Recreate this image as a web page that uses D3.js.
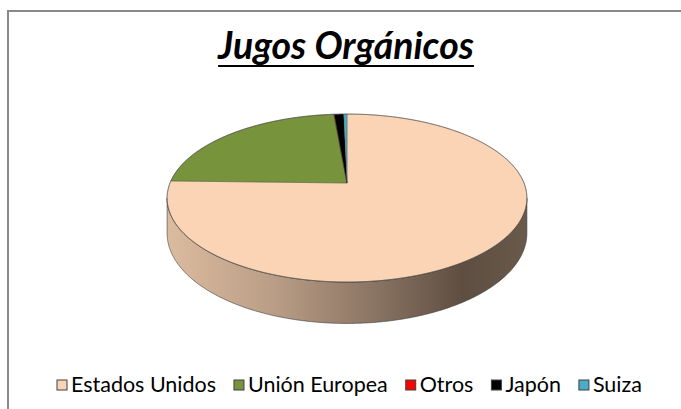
<!DOCTYPE html>
<html>
<head>
<meta charset="utf-8">
<script src="https://cdn.jsdelivr.net/npm/d3@7"></script>
<style>
  body { margin: 0; background: #fff; }
  svg { display: block; }
</style>
</head>
<body>
<div id="chart"></div>
<script>
const categories = ["Estados Unidos", "Unión Europea", "Otros", "Japón", "Suiza"]
const values = [75.4, 23.2, 0.05, 1.0, 0.35]
const colors = ["#fad4b4", "#77933c", "#ff0000", "#000000", "#4bacc6"]
const title = "Jugos Orgánicos"

function draw() {
    const width = 681, height = 409

    const svg = d3.select('#chart')
        .append('svg')
        .attr('width', width)
        .attr('height', height)

    // chart area border (cropped on right and bottom)
    svg.append('rect')
        .attr('x', 8).attr('y', 11)
        .attr('width', 700).attr('height', 420)
        .attr('fill', '#fff')
        .attr('stroke', '#898989')
        .attr('stroke-width', 2)

    // pie geometry with a bit of perspective
    const cx = 347, cy = 183, rx = 177, ry = 81.3, k = 0.179, depth = 34

    const proj = (a, drop) => {
        const u = Math.sin(a), v = -Math.cos(a)
        const w = 1 - k * v
        return [cx + rx * u / w, cy + (ry * v + drop) / w]
    }

    const arcPoints = (a0, a1, drop) => {
        const n = Math.max(2, Math.ceil(Math.abs(a1 - a0) / (Math.PI / 360)))
        return d3.range(n + 1).map(i => proj(a0 + (a1 - a0) * i / n, drop))
    }

    const pie = d3.pie().sort(null).value(d => d)
    const arcs = pie(values)

    const defs = svg.append('defs')
    const grad = defs.append('linearGradient')
        .attr('id', 'side')
        .attr('gradientUnits', 'userSpaceOnUse')
        .attr('x1', cx - rx - 4).attr('x2', cx + rx + 4)
        .attr('y1', 0).attr('y2', 0)
    const stops = [[0, '#dcbc9f'], [0.3, '#b99d86'], [0.55, '#8f7866'], [0.82, '#5e4e41'], [1, '#6a5a4c']]
    stops.forEach(s => grad.append('stop').attr('offset', s[0]).attr('stop-color', s[1]))

    const line = d3.line()

    // front side wall, between the two silhouette points
    const aR = Math.acos(-k), aL = 2 * Math.PI - Math.acos(-k)
    const sidePts = arcPoints(aR, aL, 0).concat(arcPoints(aL, aR, depth))
    svg.append('path')
        .attr('d', line(sidePts) + 'Z')
        .attr('fill', 'url(#side)')
        .attr('stroke', '#3a3a3a')
        .attr('stroke-width', 0.6)

    // top face slices
    svg.append('g')
        .selectAll('path')
        .data(arcs)
        .join('path')
        .attr('d', d => line([[cx, cy]].concat(arcPoints(d.startAngle, d.endAngle, 0))) + 'Z')
        .attr('fill', (d, i) => colors[i])
        .attr('stroke', 'rgba(40,40,40,0.55)')
        .attr('stroke-width', 0.5)

    // rim outline
    svg.append('path')
        .attr('d', line(arcPoints(0, 2 * Math.PI, 0)) + 'Z')
        .attr('fill', 'none')
        .attr('stroke', '#4a4a4a')
        .attr('stroke-width', 0.6)

    // title, fitted to the reference width
    const t = svg.append('text')
        .attr('x', 346).attr('y', 59)
        .attr('text-anchor', 'middle')
        .attr('font-family', 'Lato, "Open Sans", sans-serif')
        .attr('font-weight', 'bold')
        .attr('font-style', 'italic')
        .attr('font-size', 28)
        .attr('fill', '#000')
        .text(title)
    const tw = t.node().getComputedTextLength()
    const fs = 28 * 256 / tw
    t.attr('font-size', fs)
    const tw2 = t.node().getComputedTextLength()
    svg.append('line')
        .attr('x1', 346 - tw2 / 2).attr('x2', 346 + tw2 / 2)
        .attr('y1', 66).attr('y2', 66)
        .attr('stroke', '#000')
        .attr('stroke-width', 2)

    // legend
    const legend = svg.append('g')
    const items = legend.selectAll('g')
        .data(categories)
        .join('g')
    items.append('rect')
        .attr('width', 10).attr('height', 10)
        .attr('y', 380)
        .attr('fill', (d, i) => colors[i])
        .attr('stroke', '#404040')
        .attr('stroke-width', 1)
    const labels = items.append('text')
        .attr('y', 392)
        .attr('font-family', 'Lato, "Open Sans", sans-serif')
        .attr('font-size', 16)
        .attr('fill', '#000')
        .text(d => d)

    // scale font so total width matches reference span (57..642)
    const sq = 10, gapIn = 4, gapOut = 18
    let widths = labels.nodes().map(n => n.getComputedTextLength())
    const fixed = categories.length * (sq + gapIn) + (categories.length - 1) * gapOut
    const lfs = 16 * (585 - fixed) / d3.sum(widths)
    labels.attr('font-size', lfs)
    widths = labels.nodes().map(n => n.getComputedTextLength())

    let xpos = 57
    items.each(function (d, i) {
        const g = d3.select(this)
        g.select('rect').attr('x', xpos)
        g.select('text').attr('x', xpos + sq + gapIn)
        xpos += sq + gapIn + widths[i] + gapOut
    })
}

draw()
</script>
</body>
</html>
